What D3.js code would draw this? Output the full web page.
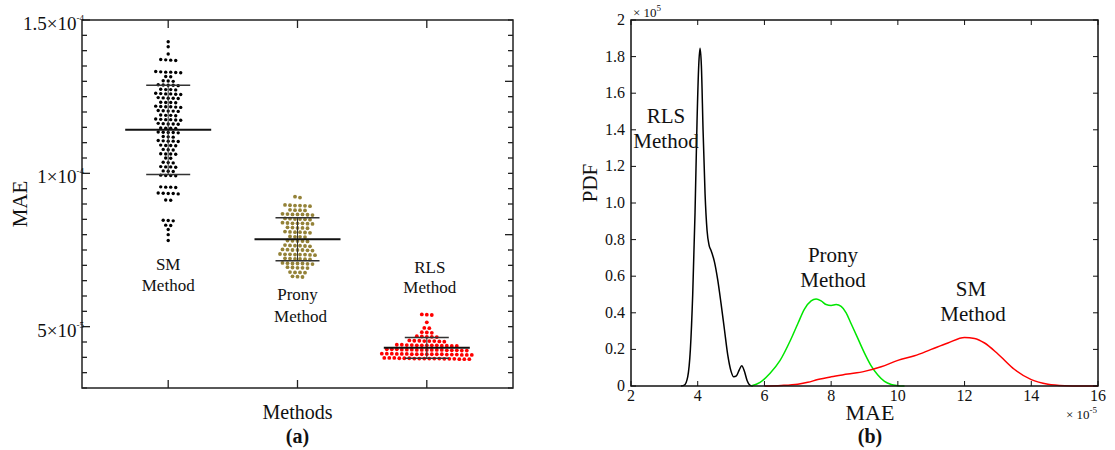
<!DOCTYPE html>
<html>
<head>
<meta charset="utf-8">
<script src="https://cdn.jsdelivr.net/npm/d3@7"></script>
<style>
  body { margin: 0; background: #fff; }
  text { font-family: "Liberation Serif", "Times New Roman", serif; fill: #111; }
</style>
</head>
<body>
<div id="chart-area"></div>
<script>
// ---------- panel (a): MAE of each run, in units of 1e-5 ----------
const methods = ["SM", "Prony", "RLS"]
const methodColors = ["#000000", "#948238", "#ff0000"]

const smMAE = [14.29, 14.13, 13.89, 13.70, 13.68, 13.69, 13.71, 13.30, 13.31, 13.29, 13.30, 13.28, 13.32, 13.15, 13.16,
  13.01, 13.02, 13.00, 12.87, 12.88, 12.86, 12.87, 12.89, 12.73, 12.74, 12.72, 12.73,
  12.59, 12.60, 12.58, 12.59, 12.61, 12.57, 12.45, 12.46, 12.44, 12.45, 12.47, 12.31, 12.30, 12.32, 12.31,
  12.17, 12.18, 12.16, 12.17, 12.19, 12.15, 12.03, 12.04, 12.02, 12.03, 12.05, 11.89, 11.90, 11.88, 11.89,
  11.75, 11.76, 11.74, 11.75, 11.77, 11.73, 11.61, 11.62, 11.60, 11.61, 11.63, 11.47, 11.48, 11.46, 11.47,
  11.33, 11.34, 11.32, 11.33, 11.35, 11.19, 11.20, 11.18, 11.05, 11.06, 11.04, 11.05, 11.07,
  10.91, 10.92, 10.90, 10.91, 10.77, 10.78, 10.76, 10.63, 10.64, 10.62, 10.63, 10.49, 10.50,
  10.35, 10.36, 10.34, 10.21, 10.22, 10.20, 10.21, 10.07, 10.08, 10.06, 9.93, 9.94, 9.92, 9.93,
  9.55, 9.56, 9.54, 9.55, 9.34, 9.35, 9.33, 9.34, 9.36, 9.12, 9.13, 8.46, 8.47, 8.45, 8.30, 8.31, 8.17, 8.00, 7.81]

const pronyMAE = [9.24, 9.21,
  8.95, 8.96, 8.94, 8.95, 8.97, 8.93, 8.80, 8.81, 8.79, 8.80,
  8.66, 8.67, 8.65, 8.66, 8.68, 8.64, 8.66, 8.51, 8.52, 8.50, 8.51, 8.53, 8.49,
  8.37, 8.38, 8.36, 8.37, 8.39, 8.35, 8.37, 8.22, 8.23, 8.21, 8.22, 8.24,
  8.08, 8.09, 8.07, 8.08, 8.10, 8.06, 7.93, 7.94, 7.92, 7.93, 7.79, 7.80, 7.78, 7.79, 7.81,
  7.64, 7.65, 7.63, 7.64, 7.66, 7.62, 7.50, 7.51, 7.49, 7.50, 7.52, 7.48, 7.50,
  7.35, 7.36, 7.34, 7.35, 7.37, 7.33, 7.35, 7.36, 7.21, 7.22, 7.20, 7.21, 7.23, 7.19,
  7.06, 7.07, 7.05, 7.06, 7.08, 7.04, 7.06, 6.92, 6.93, 6.91, 6.92, 6.94,
  6.77, 6.78, 6.76, 6.77, 6.63, 6.64, 6.62]

const rlsMAE = [5.39, 5.40, 5.38, 5.14, 4.95, 4.96, 4.81, 4.82, 4.80,
  4.67, 4.68, 4.66, 4.67, 4.69, 4.53, 4.54, 4.52, 4.53, 4.55, 4.51, 4.53, 4.54,
  4.39, 4.40, 4.38, 4.39, 4.41, 4.37, 4.39, 4.40, 4.38, 4.39, 4.41, 4.37, 4.39,
  4.24, 4.25, 4.23, 4.24, 4.26, 4.22, 4.24, 4.25, 4.23, 4.24, 4.26, 4.22, 4.24, 4.25, 4.23, 4.24, 4.26,
  4.10, 4.11, 4.09, 4.10, 4.12, 4.08, 4.10, 4.11, 4.09, 4.10, 4.12, 4.08, 4.10, 4.11, 4.09, 4.10, 4.12, 4.08, 4.10,
  3.96, 3.97, 3.95, 3.96, 3.98, 3.94, 3.96, 3.97, 3.95, 3.96, 3.98, 3.94, 3.96, 3.97, 3.95, 3.96, 3.98, 3.94]

const groups = [smMAE, pronyMAE, rlsMAE]

// left axis labels: [value, mantissa, exponent]
const aTicks = [[5, "5×10", "-5"], [10, "1×10", "-4"], [15, "1.5×10", "-4"]]

// ---------- panel (b): estimated PDFs, x in 1e-5, pdf in 1e5 ----------
const rlsX   = [3.50, 3.60, 3.70, 3.78, 3.85, 3.92, 3.98, 4.03, 4.07, 4.11, 4.16, 4.22, 4.28, 4.34, 4.40, 4.50, 4.60, 4.70, 4.80, 4.90, 5.00, 5.08, 5.16, 5.25, 5.32, 5.40, 5.48, 5.56, 5.65]
const rlsPDF = [0, 0.005, 0.05, 0.2, 0.5, 0.95, 1.45, 1.75, 1.845, 1.75, 1.4, 1.05, 0.85, 0.77, 0.74, 0.68, 0.58, 0.45, 0.31, 0.17, 0.08, 0.05, 0.055, 0.09, 0.11, 0.08, 0.03, 0.005, 0]

const pronyX   = [5.60, 5.87, 6.17, 6.47, 6.78, 7.00, 7.20, 7.40, 7.55, 7.70, 7.85, 8.00, 8.15, 8.30, 8.45, 8.60, 8.80, 9.00, 9.20, 9.40, 9.60, 9.80, 10.0, 10.2]
const pronyPDF = [0, 0.02, 0.07, 0.14, 0.25, 0.34, 0.42, 0.465, 0.475, 0.465, 0.445, 0.44, 0.445, 0.435, 0.40, 0.34, 0.26, 0.18, 0.11, 0.06, 0.025, 0.008, 0.002, 0]

const smX   = [6.0, 6.5, 7.0, 7.3, 7.6, 8.0, 8.5, 9.0, 9.5, 10.0, 10.5, 11.0, 11.5, 12.0, 12.3, 12.6, 13.0, 13.5, 14.0, 14.5, 15.0, 15.5, 16.0]
const smPDF = [0, 0.003, 0.01, 0.02, 0.035, 0.05, 0.065, 0.08, 0.105, 0.14, 0.165, 0.2, 0.235, 0.265, 0.26, 0.235, 0.175, 0.09, 0.035, 0.01, 0.002, 0, 0]

const curves = [
  { x: rlsX, y: rlsPDF, color: "#000000" },
  { x: pronyX, y: pronyPDF, color: "#00e600" },
  { x: smX, y: smPDF, color: "#ff0000" }
]

const svg = d3.select("#chart-area").append("svg")
  .attr("width", 1115)
  .attr("height", 450)

// ================= panel (a) =================
const a = { left: 82, right: 513, top: 20, bottom: 388 }
const xA = d3.scaleLinear().domain([1 / 3, 11 / 3]).range([a.left, a.right])
const yA = d3.scaleLinear().domain([3, 15]).range([a.bottom, a.top])
const gA = svg.append("g")

// dots, spread horizontally within rows (plotSpread style)
const dotGap = 5
groups.forEach((vals, gi) => {
  const cx = xA(gi + 1)
  const sorted = vals.slice().sort((p, q) => q - p)
  const rows = []
  sorted.forEach(v => {
    const last = rows[rows.length - 1]
    if (last && Math.abs(yA(v) - yA(last[0])) < 2.5) last.push(v)
    else rows.push([v])
  })
  const pts = []
  rows.forEach(r => r.forEach((v, i) => pts.push({ x: cx + (i - (r.length - 1) / 2) * dotGap, y: yA(v) })))
  gA.append("g").selectAll("circle").data(pts).join("circle")
    .attr("cx", d => d.x).attr("cy", d => d.y)
    .attr("r", gi === 0 ? 1.7 : 1.9)
    .attr("fill", methodColors[gi])

  const m = d3.mean(vals), s = d3.deviation(vals)
  gA.append("line").attr("x1", cx).attr("x2", cx).attr("y1", yA(m + s)).attr("y2", yA(m - s))
    .attr("stroke", "#333").attr("stroke-width", 1)
  gA.append("line").attr("x1", cx - 43).attr("x2", cx + 43).attr("y1", yA(m)).attr("y2", yA(m))
    .attr("stroke", "#111").attr("stroke-width", 2)
  ;[m + s, m - s].forEach(v => {
    gA.append("line").attr("x1", cx - 22).attr("x2", cx + 22).attr("y1", yA(v)).attr("y2", yA(v))
      .attr("stroke", "#333").attr("stroke-width", 1.5)
  })
})

// method labels
const labelBase = [[270, 291], [300, 322], [273, 293]]
methods.forEach((mth, i) => {
  const t = gA.append("text").attr("text-anchor", "middle").style("font-size", "17px")
  t.append("tspan").attr("x", xA(i + 1) + (i === 2 ? 3 : 0)).attr("y", labelBase[i][0]).text(mth)
  t.append("tspan").attr("x", xA(i + 1) + (i === 0 ? 0 : 3)).attr("y", labelBase[i][1]).text("Method")
})

// frame and ticks
gA.append("rect").attr("x", a.left).attr("y", a.top)
  .attr("width", a.right - a.left).attr("height", a.bottom - a.top)
  .attr("fill", "none").attr("stroke", "#222").attr("stroke-width", 1.5)

d3.range(3, 15.01, 0.5).forEach(v => {
  const major = aTicks.some(t => t[0] === v)
  gA.append("line").attr("x1", a.left).attr("x2", a.left + (major ? 8 : 5))
    .attr("y1", yA(v)).attr("y2", yA(v)).attr("stroke", "#222").attr("stroke-width", 1.3)
  const rMajor = (v === 8 || v === 13)
  gA.append("line").attr("x1", a.right).attr("x2", a.right - (rMajor ? 8 : 5))
    .attr("y1", yA(v)).attr("y2", yA(v)).attr("stroke", "#222").attr("stroke-width", 1.3)
})
methods.forEach((m, i) => {
  gA.append("line").attr("x1", xA(i + 1)).attr("x2", xA(i + 1)).attr("y1", a.bottom).attr("y2", a.bottom - 8)
    .attr("stroke", "#222").attr("stroke-width", 1.3)
  gA.append("line").attr("x1", xA(i + 1)).attr("x2", xA(i + 1)).attr("y1", a.top).attr("y2", a.top + 8)
    .attr("stroke", "#222").attr("stroke-width", 1.3)
})

aTicks.forEach(t => {
  const tx = gA.append("text").attr("x", 84).attr("y", yA(t[0]) + 10)
    .attr("text-anchor", "end").style("font-size", "19px")
  tx.append("tspan").text(t[1])
  tx.append("tspan").attr("dy", -9).style("font-size", "9px").text(t[2])
})

gA.append("text").attr("transform", `translate(27,${(a.top + a.bottom) / 2}) rotate(-90)`)
  .attr("text-anchor", "middle").style("font-size", "21px").text("MAE")
gA.append("text").attr("x", (a.left + a.right) / 2).attr("y", 419)
  .attr("text-anchor", "middle").style("font-size", "20px").text("Methods")
gA.append("text").attr("x", (a.left + a.right) / 2).attr("y", 443)
  .attr("text-anchor", "middle").style("font-size", "20px").style("font-weight", "bold").text("(a)")

// ================= panel (b) =================
const b = { left: 631, right: 1098, top: 20, bottom: 386 }
const xB = d3.scaleLinear().domain([2, 16]).range([b.left, b.right])
const yB = d3.scaleLinear().domain([0, 2]).range([b.bottom, b.top])
const gB = svg.append("g")

const line = d3.line().x(d => xB(d[0])).y(d => yB(d[1])).curve(d3.curveMonotoneX)
curves.forEach(c => {
  gB.append("path").datum(d3.zip(c.x, c.y)).attr("d", line)
    .attr("fill", "none").attr("stroke", c.color).attr("stroke-width", 1.5)
})

gB.append("rect").attr("x", b.left).attr("y", b.top)
  .attr("width", b.right - b.left).attr("height", b.bottom - b.top)
  .attr("fill", "none").attr("stroke", "#111").attr("stroke-width", 1.5)

const xTicksB = d3.range(2, 16.01, 2)
const yTicksB = d3.range(0, 2.001, 0.2)
xTicksB.forEach(v => {
  gB.append("line").attr("x1", xB(v)).attr("x2", xB(v)).attr("y1", b.bottom).attr("y2", b.bottom - 5).attr("stroke", "#111")
  gB.append("line").attr("x1", xB(v)).attr("x2", xB(v)).attr("y1", b.top).attr("y2", b.top + 5).attr("stroke", "#111")
  gB.append("text").attr("x", xB(v)).attr("y", 401).attr("text-anchor", "middle")
    .style("font-size", "16px").text(v)
})
yTicksB.forEach(v => {
  gB.append("line").attr("x1", b.left).attr("x2", b.left + 5).attr("y1", yB(v)).attr("y2", yB(v)).attr("stroke", "#111")
  gB.append("line").attr("x1", b.right).attr("x2", b.right - 5).attr("y1", yB(v)).attr("y2", yB(v)).attr("stroke", "#111")
  gB.append("text").attr("x", 625).attr("y", yB(v) + 5).attr("text-anchor", "end")
    .style("font-size", "16px").text(v === 0 || Math.abs(v - 2) < 1e-9 ? d3.format("d")(Math.round(v)) : d3.format(".1f")(v))
})

const expTop = gB.append("text").attr("x", 633).attr("y", 17).style("font-size", "13px")
expTop.append("tspan").text("×  10")
expTop.append("tspan").attr("dy", -6).style("font-size", "9px").text("5")
const expBot = gB.append("text").attr("x", 1066).attr("y", 419).style("font-size", "13px")
expBot.append("tspan").text("×  10")
expBot.append("tspan").attr("dy", -6).style("font-size", "9px").text("-5")

// curve annotations
const notes = [["RLS", 666, 123], ["Method", 666, 148], ["Prony", 833, 262], ["Method", 833, 287], ["SM", 971, 296], ["Method", 973, 321]]
notes.forEach(n => {
  gB.append("text").attr("x", n[1]).attr("y", n[2]).attr("text-anchor", "middle")
    .style("font-size", "21px").text(n[0])
})

gB.append("text").attr("transform", `translate(597,${(b.top + b.bottom) / 2 - 20}) rotate(-90)`)
  .attr("text-anchor", "middle").style("font-size", "21px").text("PDF")
gB.append("text").attr("x", 870).attr("y", 420).attr("text-anchor", "middle")
  .style("font-size", "22px").text("MAE")
gB.append("text").attr("x", 870).attr("y", 443).attr("text-anchor", "middle")
  .style("font-size", "20px").style("font-weight", "bold").text("(b)")
</script>
</body>
</html>
